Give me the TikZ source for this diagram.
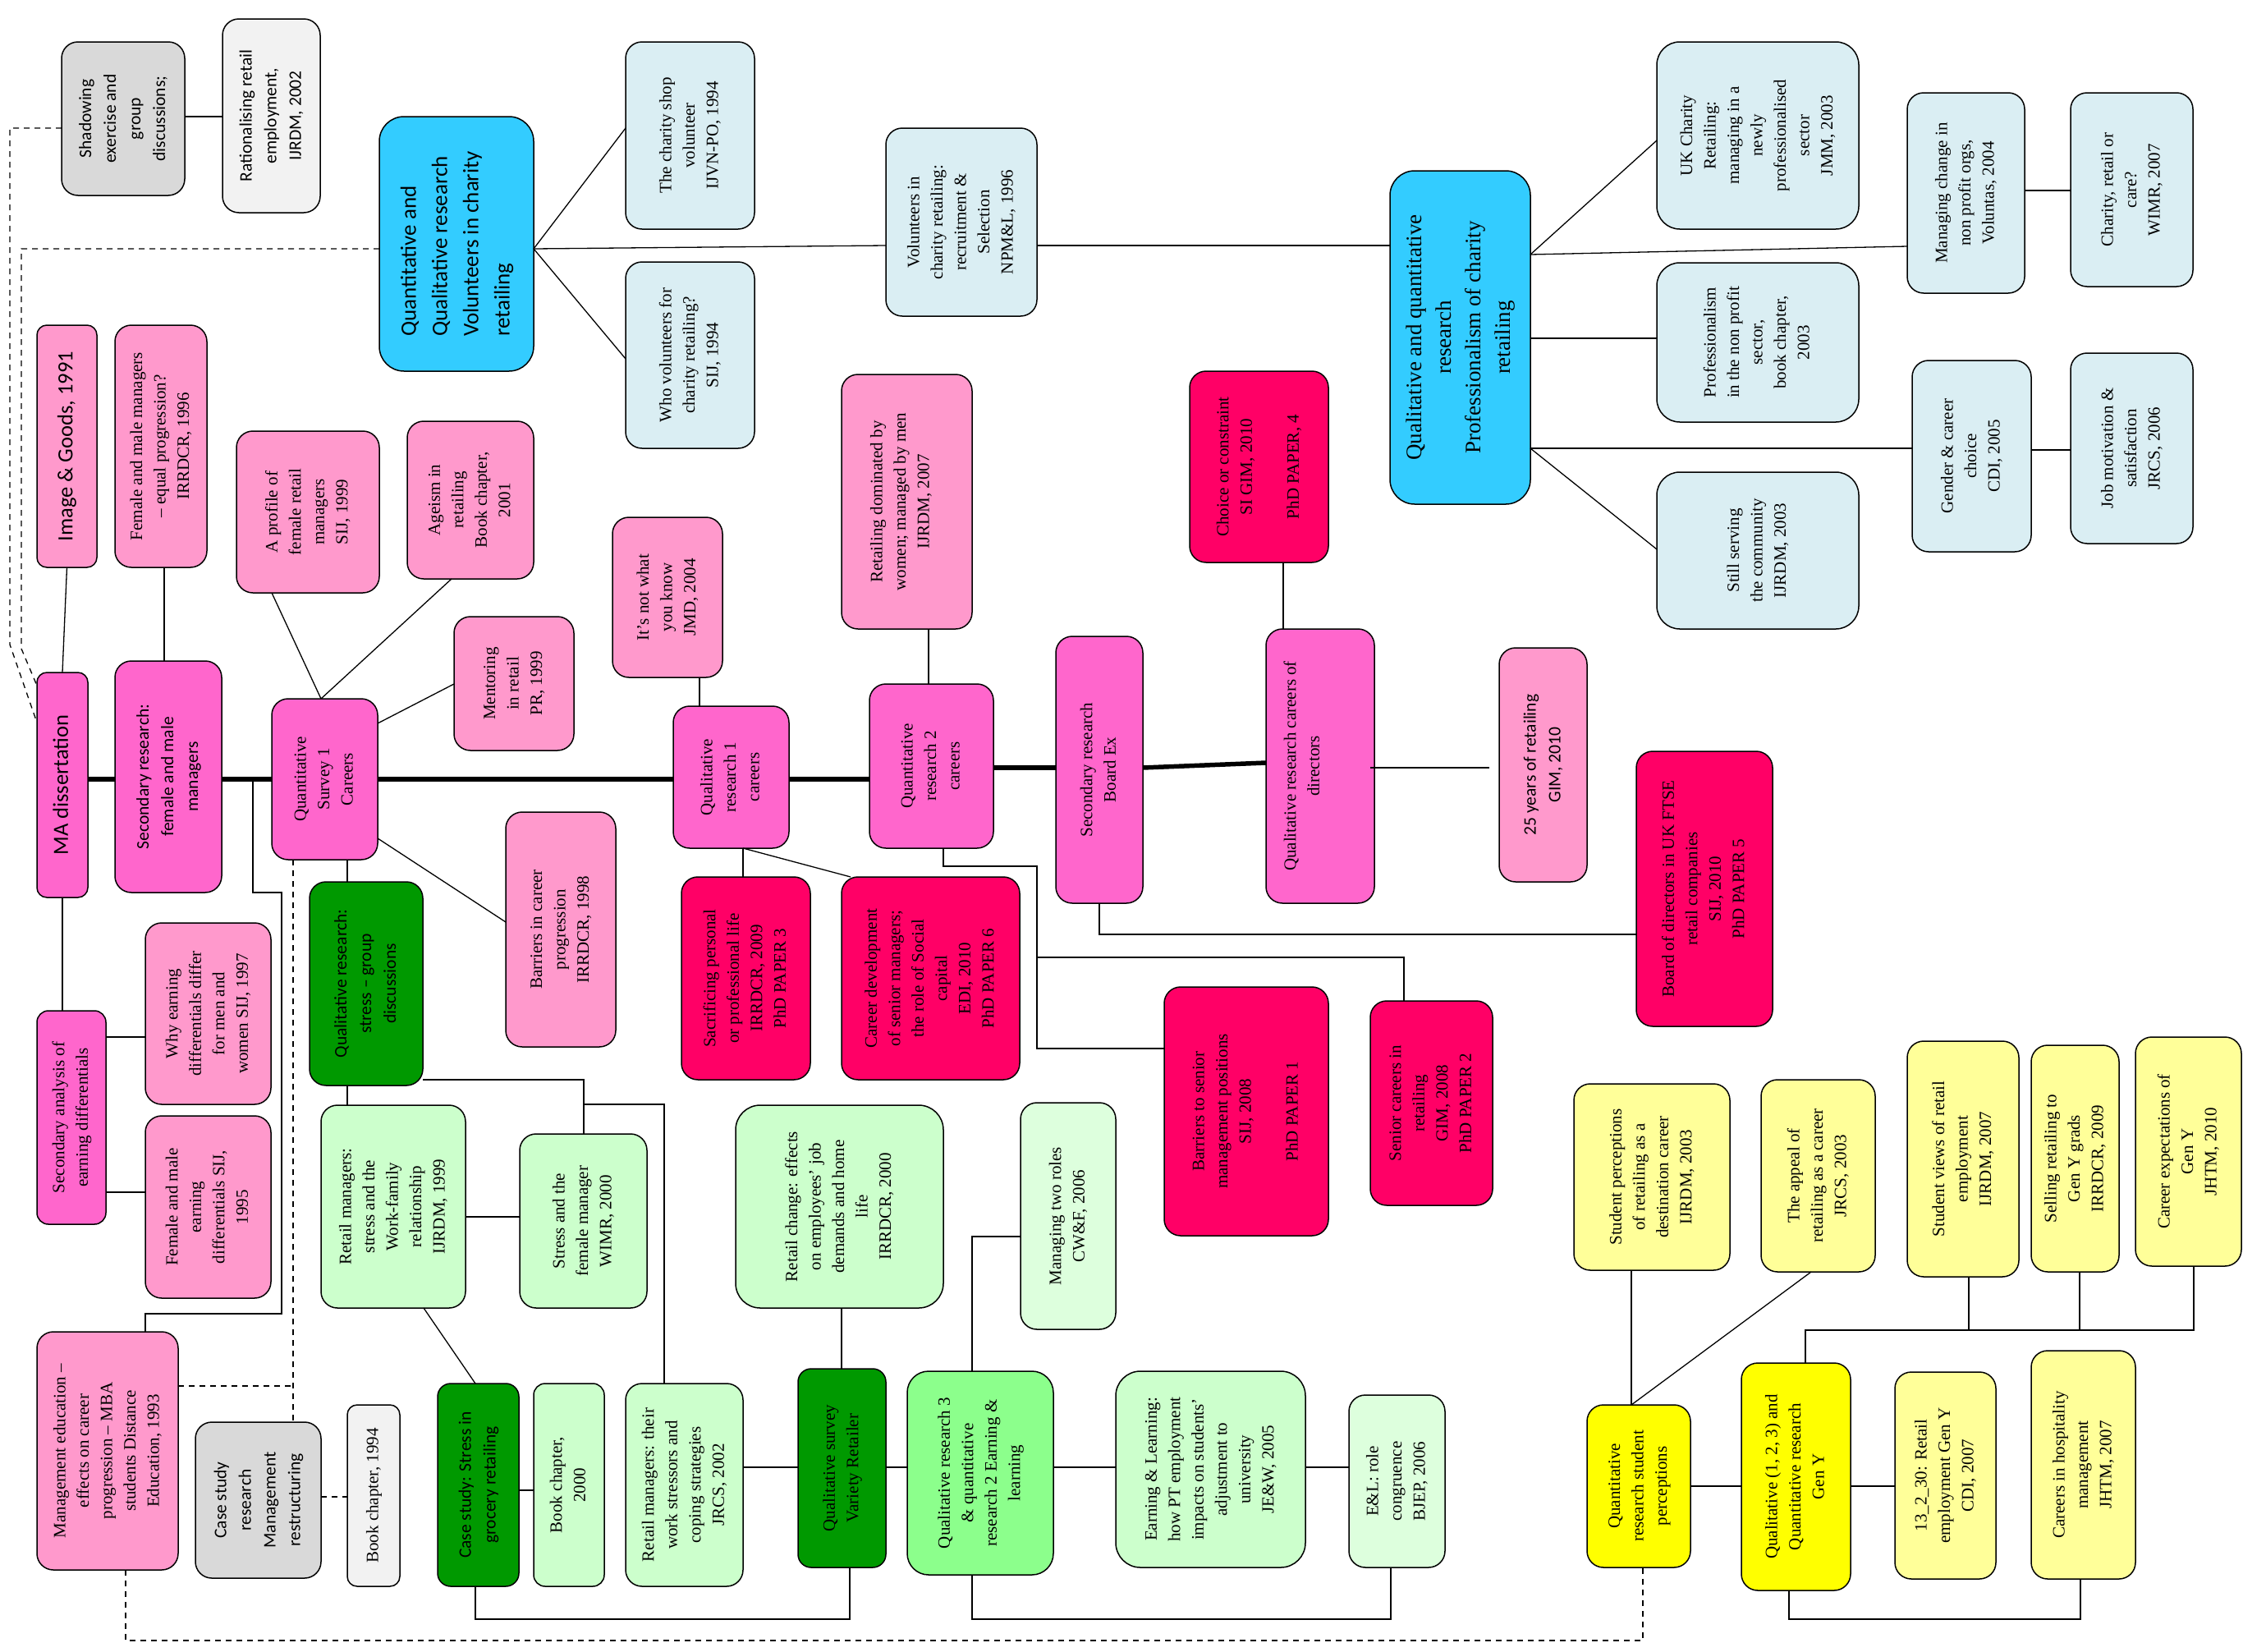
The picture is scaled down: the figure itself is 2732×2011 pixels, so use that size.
\documentclass[tikz,border=0pt]{standalone}
\usepackage{fontspec}
\setmainfont{Liberation Serif}
\newfontfamily\sansf{Carlito}
\usepackage{graphicx}
\newcommand\serf{\fontsize{21}{28.5}\selectfont}
\newcommand\serbig{\fontsize{27}{36}\selectfont}
\newcommand\sanf{\sansf\fontsize{21.5}{30}\selectfont}
\newcommand\sanbig{\sansf\fontsize{27}{38}\selectfont}
\newcommand\sanmid{\sansf\fontsize{26.5}{34}\selectfont}
% vertical (bottom-to-top) text blocks
\newcommand\vt[1]{\rotatebox{90}{\begin{tabular}{@{}c@{}}#1\end{tabular}}}
\newcommand\vtl[1]{\rotatebox{90}{\begin{tabular}{@{}l@{}}#1\end{tabular}}}
% box given by its corners: [style]{name}{x1}{y1}{x2}{y2}{text}
\newcommand\bx[7][]{\node[box,#1,minimum width={(#5-#3)*1pt},minimum height={(#6-#4)*1pt}] (#2) at ({(#3+#5)/2},{(#4+#6)/2}) {#7};}
\definecolor{pinkL}{HTML}{FF99CC}
\definecolor{pinkM}{HTML}{FF66CC}
\definecolor{pinkR}{HTML}{FF0066}
\definecolor{blueB}{HTML}{33CCFF}
\definecolor{blueL}{HTML}{DAEEF3}
\definecolor{greenD}{HTML}{009900}
\definecolor{greenL}{HTML}{CCFFCC}
\definecolor{greenM}{HTML}{8CFF8C}
\definecolor{greenP}{HTML}{DDFFDD}
\definecolor{yellowB}{HTML}{FFFF00}
\definecolor{yellowL}{HTML}{FFFF99}
\definecolor{grayD}{HTML}{D9D9D9}
\definecolor{grayL}{HTML}{F2F2F2}
\begin{document}
\begin{tikzpicture}[x=1pt,y=-1pt,
  box/.style={draw, line width=1.5pt, rounded corners=20pt, inner sep=0pt, outer sep=0pt, font=\serf},
  sf/.style={font=\sanf},
  sfbig/.style={font=\sanbig},
  sfmid/.style={font=\sanmid},
  serbig/.style={font=\serbig},
  ln/.style={line width=1.3pt},
  mainline/.style={line width=5.5pt},
  dsh/.style={line width=1.3pt, dash pattern=on 7pt off 6pt}]
\fill[white] (0,0) rectangle (2732,2011);
\useasboundingbox (0,0) rectangle (2732,2011);

% ---- charity retailing strand
\bx[fill=grayD,sf]{shad}{75}{51}{225}{238}{\vt{Shadowing\\exercise and\\group\\discussions;}}
\bx[fill=grayL,sf]{rat}{271}{23}{390}{259}{\vt{Rationalising retail\\employment,\\IJRDM, 2002}}
\bx[fill=blueB,sfbig,rounded corners=30pt]{vol}{462}{142}{650}{452}{\vtl{Quantitative and\\Qualitative research\\Volunteers in charity\\retailing}}
\bx[fill=blueL]{csv}{762}{51}{919}{279}{\vt{The charity shop\\volunteer\\IJVN-PO, 1994}}
\bx[fill=blueL]{whov}{762}{319}{919}{546}{\vt{Who volunteers for\\charity retailing?\\SIJ, 1994}}
\bx[fill=blueL]{vcr}{1079}{156}{1263}{385}{\vt{Volunteers in\\charity retailing:\\recruitment \&\\Selection\\NPM\&L, 1996}}
\bx[fill=blueB,serbig,rounded corners=30pt]{prof}{1693}{208}{1864}{614}{\vt{Qualitative and quantitative\\research\\Professionalism of charity\\retailing}}
\bx[fill=blueL,rounded corners=28pt]{ukc}{2018}{51}{2264}{279}{\vt{UK Charity\\Retailing:\\managing in a\\newly\\professionalised\\sector\\JMM, 2003}}
\bx[fill=blueL,rounded corners=28pt]{pns}{2018}{320}{2264}{514}{\vt{Professionalism\\in the non profit\\sector,\\book chapter,\\2003}}
\bx[fill=blueL,rounded corners=28pt]{sts}{2018}{575}{2264}{766}{\vt{Still serving\\the community\\IJRDM, 2003}}
\bx[fill=blueL]{mch}{2323}{113}{2466}{357}{\vt{Managing change in\\non profit orgs,\\Voluntas, 2004}}
\bx[fill=blueL]{crc}{2522}{113}{2671}{349}{\vt{Charity, retail or\\care?\\WIMR, 2007}}
\bx[fill=blueL]{gcc}{2329}{439}{2474}{672}{\vt{Gender \& career\\choice\\CDI, 2005}}
\bx[fill=blueL]{jms}{2522}{430}{2671}{662}{\vt{Job motivation \&\\satisfaction\\JRCS, 2006}}

% ---- careers strand
\bx[fill=pinkL,sfmid,rounded corners=12pt]{img}{45}{396}{118}{691}{\vt{Image \& Goods, 1991}}
\bx[fill=pinkL]{fmm}{140}{396}{252}{691}{\vt{Female and male managers\\– equal progression?\\IRRDCR, 1996}}
\bx[fill=pinkL]{apf}{288}{525}{462}{722}{\vt{A profile of\\female retail\\managers\\SIJ, 1999}}
\bx[fill=pinkL]{age}{496}{513}{650}{705}{\vt{Ageism in\\retailing\\Book chapter,\\2001}}
\bx[fill=pinkL]{inw}{746}{630}{880}{825}{\vt{It’s not what\\you know\\JMD, 2004}}
\bx[fill=pinkL]{rdw}{1025}{456}{1184}{766}{\hspace*{-14pt}\vt{Retailing dominated by\\women; managed by men\\IJRDM, 2007}}
\bx[fill=pinkR]{coc}{1449}{452}{1618}{685}{\vt{Choice or constraint\\SI GIM, 2010\\ \\PhD PAPER, 4}}
\bx[fill=pinkL]{men}{553}{751}{699}{914}{\vt{Mentoring\\in retail\\PR, 1999}}
\bx[fill=pinkM,sfmid,rounded corners=12pt]{ma}{45}{819}{107}{1093}{\vt{MA dissertation}}
\bx[fill=pinkM,sf]{sr}{140}{805}{270}{1087}{\vt{Secondary research:\\female and male\\managers}}
\bx[fill=pinkM]{qs1}{331}{851}{460}{1047}{\vt{Quantitative\\Survey 1\\Careers}}
\bx[fill=pinkM]{ql1}{820}{860}{961}{1033}{\vt{Qualitative\\research 1\\careers}}
\bx[fill=pinkM]{qn2}{1059}{833}{1210}{1033}{\vt{Quantitative\\research 2\\careers}}
\bx[fill=pinkM]{bex}{1286}{775}{1392}{1100}{\vt{Secondary research\\Board Ex}}
\bx[fill=pinkM]{qrd}{1542}{766}{1674}{1100}{\hspace*{-42pt}\vt{Qualitative research careers of\\directors}}
\bx[fill=pinkL,sf]{y25}{1826}{789}{1933}{1074}{\vt{25 years of retailing\\GIM, 2010}}
\bx[fill=pinkR]{bod}{1993}{915}{2159}{1250}{\vt{Board of directors in UK FTSE\\retail companies\\SIJ, 2010\\PhD PAPER 5}}
\bx[fill=pinkL]{bcp}{616}{989}{750}{1275}{\vt{Barriers in career\\progression\\IRRDCR, 1998}}
\bx[fill=pinkR]{sac}{830}{1068}{987}{1315}{\vt{Sacrificing personal\\or professional life\\IRRDCR, 2009\\PhD PAPER 3}}
\bx[fill=pinkR]{cds}{1025}{1068}{1242}{1315}{\vt{Career development\\of senior managers;\\the role of Social\\capital\\EDI, 2010\\PhD PAPER 6}}
\bx[fill=pinkR]{bsm}{1418}{1202}{1618}{1505}{\vt{Barriers to senior\\management positions\\SIJ, 2008\\ \\PhD PAPER 1}}
\bx[fill=pinkR]{scr}{1669}{1219}{1818}{1468}{\vt{Senior careers in\\retailing\\GIM, 2008\\PhD PAPER 2}}
\bx[fill=pinkM,rounded corners=14pt]{sae}{45}{1231}{129}{1491}{\vt{Secondary analysis of\\earning differentials}}
\bx[fill=pinkL]{wed}{177}{1124}{330}{1345}{\vt{Why earning\\differentials differ\\for men and\\women SIJ, 1997}}
\bx[fill=pinkL]{fme}{177}{1359}{330}{1581}{\vt{Female and male\\earning\\differentials SIJ,\\1995}}
\bx[fill=pinkL]{med}{45}{1622}{217}{1912}{\vt{Management education –\\effects on career\\progression – MBA\\students Distance\\Education, 1993}}
\bx[fill=grayD,sf]{csr}{238}{1732}{391}{1922}{\vt{Case study\\research\\Management\\restructuring}}
\bx[fill=grayL,rounded corners=12pt]{bc94}{423}{1711}{487}{1932}{\vt{Book chapter, 1994}}

% ---- stress and earning & learning strand
\bx[fill=greenD,sf]{qrs}{377}{1074}{515}{1322}{\vt{Qualitative research:\\stress – group\\discussions}}
\bx[fill=greenL]{rms}{391}{1346}{567}{1593}{\vt{Retail managers:\\stress and the\\Work-family\\relationship\\IJRDM, 1999}}
\bx[fill=greenL]{sfm}{633}{1381}{788}{1593}{\vt{Stress and the\\female manager\\WIMR, 2000}}
\bx[fill=greenD,sf,rounded corners=16pt]{css}{533}{1685}{632}{1932}{\vt{Case study: Stress in\\grocery retailing}}
\bx[fill=greenL,rounded corners=14pt]{bc00}{650}{1685}{736}{1932}{\vt{Book chapter,\\2000}}
\bx[fill=greenL]{rmw}{762}{1685}{905}{1932}{\vt{Retail managers: their\\work stressors and\\coping strategies\\JRCS, 2002}}
\bx[fill=greenL,rounded corners=30pt]{rch}{896}{1346}{1149}{1593}{\vt{Retail change: effects\\on employees’ job\\demands and home\\life\\IRRDCR, 2000}}
\bx[fill=greenD,rounded corners=16pt]{vr}{972}{1667}{1079}{1909}{\vt{Qualitative survey\\Variety Retailer}}
\bx[fill=greenM,rounded corners=26pt]{qr3}{1105}{1670}{1283}{1918}{\vt{Qualitative research 3\\\& quantitative\\research 2 Earning \&\\learning}}
\bx[fill=greenP]{mtr}{1243}{1343}{1359}{1619}{\vt{Managing two roles\\CW\&F, 2006}}
\bx[fill=greenL,rounded corners=30pt]{eal}{1359}{1670}{1590}{1909}{\vt{Earning \& Learning:\\how PT employment\\impacts on students’\\adjustment to\\university\\JE\&W, 2005}}
\bx[fill=greenP]{elr}{1643}{1699}{1760}{1909}{\vt{E\&L: role\\congruence\\BJEP, 2006}}

% ---- student perceptions / Gen Y strand
\bx[fill=yellowL]{spr}{1917}{1320}{2107}{1547}{\vt{Student perceptions\\of retailing as a\\destination career\\IJRDM, 2003}}
\bx[fill=yellowB]{qsp}{1933}{1711}{2059}{1909}{\vt{Quantitative\\research student\\perceptions}}
\bx[fill=yellowL]{app}{2145}{1315}{2284}{1549}{\vt{The appeal of\\retailing as a career\\JRCS, 2003}}
\bx[fill=yellowL]{svr}{2323}{1268}{2459}{1555}{\vt{Student views of retail\\employment\\IJRDM, 2007}}
\bx[fill=yellowL]{sel}{2474}{1273}{2581}{1549}{\vt{Selling retailing to\\Gen Y grads\\IRRDCR, 2009}}
\bx[fill=yellowL]{cex}{2601}{1263}{2730}{1542}{\vt{Career expectations of\\Gen Y\\JHTM, 2010}}
\bx[fill=yellowB]{gy}{2121}{1660}{2254}{1937}{\vt{Qualitative (1, 2, 3) and\\Quantitative research\\Gen Y}}
\bx[fill=yellowL]{r13}{2308}{1671}{2431}{1923}{\vt{13\_2\_30: Retail\\employment Gen Y\\CDI, 2007}}
\bx[fill=yellowL]{chm}{2474}{1645}{2601}{1923}{\vt{Careers in hospitality\\management\\JHTM, 2007}}

% ---- junction points on connectors
\coordinate (j1) at (308,949);
\coordinate (j2) at (711,1345);
\coordinate (j3) at (1263,1166);
\coordinate (j4) at (2398,1620);
\coordinate (j5) at (2533,1620);

% ---- main career spine
\draw[mainline] (ma.east |- 0,949) -- (sr.west |- 0,949);
\draw[mainline] (sr.east |- 0,949) -- (qs1.west |- 0,949);
\draw[mainline] (qs1.east |- 0,949) -- (ql1.west |- 0,949);
\draw[mainline] (ql1.east |- 0,949) -- (qn2.west |- 0,949);
\draw[mainline] (qn2.east |- 0,935) -- (bex.west |- 0,935);
\draw[mainline] (bex.east |- 0,935) -- (qrd.west |- 0,929);

% ---- solid connectors
\draw[ln] (shad.east |- 0,142) -- (rat.west |- 0,142);
\draw[ln] (vol.east |- 0,303) -- (csv.west |- 0,156);
\draw[ln] (vol.east |- 0,303) -- (whov.west |- 0,437);
\draw[ln] (vol.east |- 0,303) -- (vcr.west |- 0,299);
\draw[ln] (vcr.east |- 0,299) -- (prof.west |- 0,299);
\draw[ln] (prof.east |- 0,310) -- (ukc.west |- 0,171);
\draw[ln] (prof.east |- 0,310) -- (mch.west |- 0,300);
\draw[ln] (prof.east |- 0,412) -- (pns.west |- 0,412);
\draw[ln] (prof.east |- 0,546) -- (gcc.west |- 0,546);
\draw[ln] (prof.east |- 0,546) -- (sts.west |- 0,669);
\draw[ln] (mch.east |- 0,232) -- (crc.west |- 0,232);
\draw[ln] (gcc.east |- 0,548) -- (jms.west |- 0,548);

\draw[ln] (img.south) -- (ma.north);
\draw[ln] (fmm.south -| 200,0) -- (sr.north -| 200,0);
\draw[ln] (apf.south -| 331,0) -- (qs1.north -| 391,0);
\draw[ln] (age.south -| 550,0) -- (qs1.north -| 391,0);
\draw[ln] (qs1.east |- 0,881) -- (men.west |- 0,833);
\draw[ln] (qs1.east |- 0,1021) -- (bcp.west |- 0,1123);
\draw[ln] (ma.south) -- (sae.north -| ma.south);
\draw[ln] (sae.east |- 0,1263) -- (wed.west |- 0,1263);
\draw[ln] (sae.east |- 0,1452) -- (fme.west |- 0,1452);
\draw[ln] (j1) -- (308,1087) -- (343,1087) -- (343,1600) -| (med.north -| 177,0);
\draw[ln] (inw.south -| 852,0) -- (ql1.north -| 852,0);
\draw[ln] (rdw.south -| 1131,0) -- (qn2.north -| 1131,0);
\draw[ln] (ql1.south -| 905,0) -- (sac.north -| 905,0);
\draw[ln] (ql1.south -| 905,0) -- (cds.north -| 1036,0);
\draw[ln] (qn2.south -| 1149,0) |- (1263,1055) |- (bsm.west |- 0,1277);
\draw[ln] (j3) -| (scr.north -| 1710,0);
\draw[ln] (bex.south -| 1339,0) |- (bod.west |- 0,1138);
\draw[ln] (coc.south -| 1563,0) -- (qrd.north -| 1563,0);
\draw[ln, shorten >=12pt] (1669,935) -- (y25.west |- 0,935);

\draw[ln] (qs1.south -| 423,0) -- (qrs.north -| 423,0);
\draw[ln] (qrs.south -| 423,0) -- (rms.north -| 423,0);
\draw[ln] (qrs.east |- 0,1315) -| (sfm.north -| 711,0);
\draw[ln] (j2) -| (rmw.north -| 809,0);
\draw[ln] (rms.east |- 0,1482) -- (sfm.west |- 0,1482);
\draw[ln] (rms.south -| 516,0) -- (css.north -| 579,0);
\draw[ln] (css.east |- 0,1815) -- (bc00.west |- 0,1815);
\draw[ln] (css.south -| 579,0) -- (579,1972) -| (vr.south -| 1035,0);
\draw[ln] (rmw.east |- 0,1787) -- (vr.west |- 0,1787);
\draw[ln] (rch.south -| 1025,0) -- (vr.north -| 1025,0);
\draw[ln] (vr.east |- 0,1787) -- (qr3.west |- 0,1787);
\draw[ln] (qr3.north -| 1184,0) |- (mtr.west |- 0,1506);
\draw[ln] (qr3.east |- 0,1787) -- (eal.west |- 0,1787);
\draw[ln] (eal.east |- 0,1787) -- (elr.west |- 0,1787);
\draw[ln] (qr3.south -| 1184,0) -- (1184,1972) -| (elr.south -| 1694,0);

\draw[ln] (spr.south -| 1987,0) -- (qsp.north -| 1987,0);
\draw[ln] (qsp.north -| 1987,0) -- (app.south -| 2206,0);
\draw[ln] (qsp.east |- 0,1810) -- (gy.west |- 0,1810);
\draw[ln] (gy.east |- 0,1810) -- (r13.west |- 0,1810);
\draw[ln] (gy.north -| 2199,0) |- (2672,1620) -- (cex.south -| 2672,0);
\draw[ln] (j4) -- (svr.south -| j4);
\draw[ln] (j5) -- (sel.south -| j5);
\draw[ln] (gy.south -| 2179,0) |- (2534,1972) -- (chm.south -| 2534,0);

% ---- dashed connectors
\draw[dsh] (shad.west |- 0,156) -| (12,785) -- (ma.west |- 0,880);
\draw[dsh] (vol.west |- 0,303) -| (26,790) -- (ma.west |- 0,835);
\draw[dsh] (qs1.south -| 357,0) -- (csr.north -| 357,0);
\draw[dsh] (med.east |- 0,1688) -- (357,1688);
\draw[dsh] (csr.east |- 0,1823) -- (bc94.west |- 0,1823);
\draw[dsh] (med.south -| 153,0) |- (2001,1998) -- (qsp.south -| 2001,0);
\end{tikzpicture}
\end{document}
